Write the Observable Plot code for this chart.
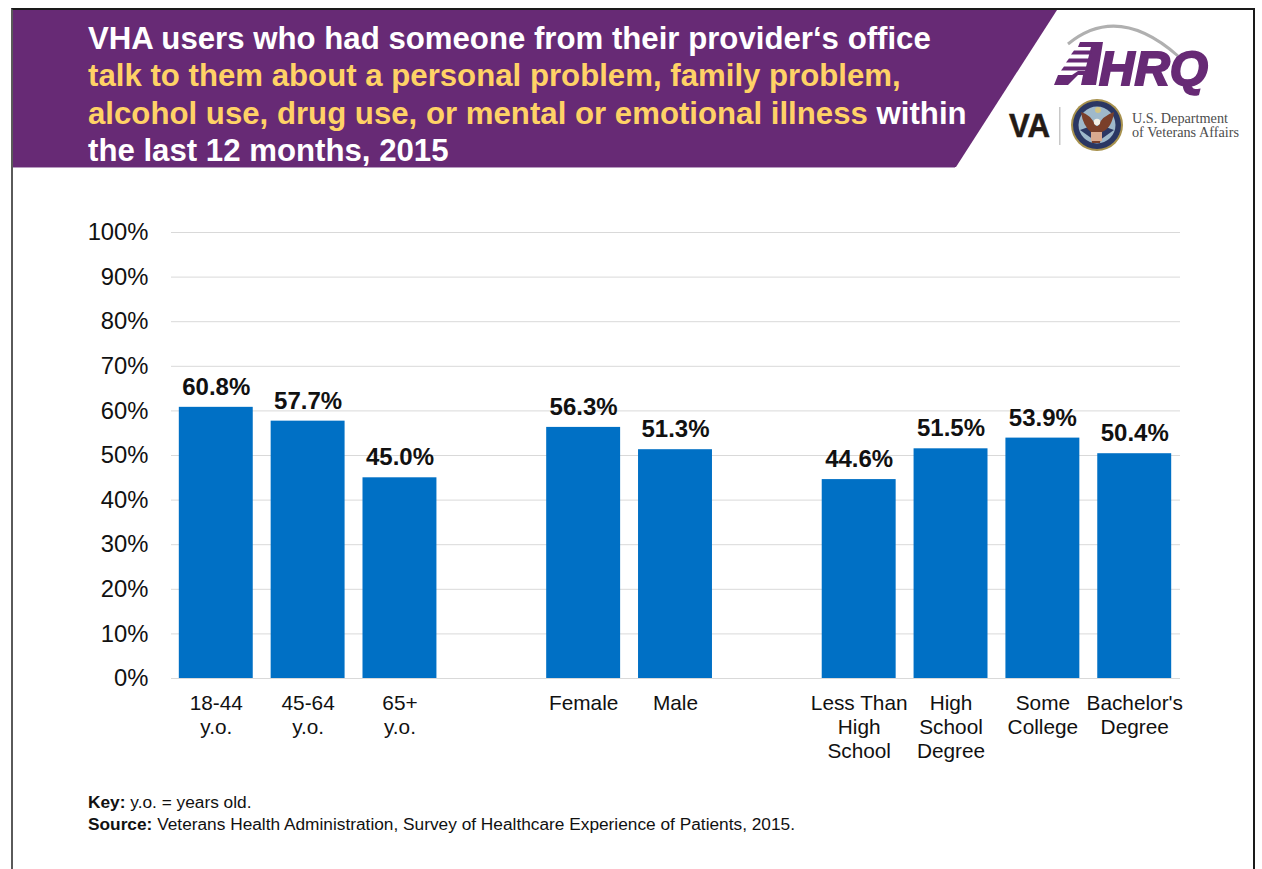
<!DOCTYPE html>
<html><head><meta charset="utf-8">
<script src="https://cdn.jsdelivr.net/npm/d3@7"></script>
<script src="https://cdn.jsdelivr.net/npm/@observablehq/plot@0.6"></script>
<style>
html,body{margin:0;padding:0;background:#fff;width:1262px;height:869px;overflow:hidden;font-family:"Liberation Sans",Arial,sans-serif}
#frame{position:absolute;left:11px;top:8px;width:1240px;height:900px;border:2px solid #5a5a5a;border-top-color:#1a1a1a;border-right-color:#1a1a1a;box-sizing:content-box}
#banner{position:absolute;left:13px;top:10px;width:1044px;height:157px;background:#672a75;clip-path:polygon(0 0,100% 0,943px 100%,0 100%)}
#rule{position:absolute;left:13px;top:167px;width:942px;height:1px;background:#b79bc0}
#title{position:absolute;left:88px;top:19.5px;width:900px;font-weight:700;font-size:31.2px;line-height:37.6px;color:#fff;white-space:pre}
#title .g{color:#ffd266}
#chart{position:absolute;left:0;top:0}
#foot{position:absolute;left:88px;top:792px;font-size:17.3px;line-height:21.5px;color:#111;white-space:pre}
#foot div span.k{font-weight:700}
#logos{position:absolute;left:1000px;top:10px}
</style></head><body>
<div id="frame"></div>
<div id="banner"></div><div id="rule"></div>
<div id="chart"></div>
<div id="title"><div><span>VHA users who had someone from their provider‘s office</span></div><div><span class="g">talk to them about a personal problem, family problem,</span></div><div><span class="g">alcohol use, drug use, or mental or emotional illness</span><span> within</span></div><div><span>the last 12 months, 2015</span></div></div>
<svg id="logos" width="250" height="150" viewBox="1000 10 250 150" font-family="Liberation Sans">
  <path d="M1068 44 Q1118 3 1178 56" fill="none" stroke="#b0b0b0" stroke-width="3"/>
  <g fill="#672a75">
    <path d="M1080 42H1103L1096 85H1081L1083 75H1072L1078 71H1085L1091 47H1078Z"/>
    <path d="M1074 50.5H1092L1090.5 54.5H1071Z"/>
    <path d="M1069 58.5H1090L1089 62.5H1066Z"/>
    <path d="M1064 66.5H1088L1087 70.5H1061Z"/>
    <path d="M1058 75H1078L1068 85H1054Z"/>
    <text x="1099" y="85" font-size="48" font-weight="700" font-style="italic" stroke="#672a75" stroke-width="2" textLength="109" lengthAdjust="spacingAndGlyphs">HRQ</text>
  </g>
  <text x="1009" y="137" font-size="33" font-weight="700" fill="#231a15" stroke="#231a15" stroke-width=".6" textLength="41" lengthAdjust="spacingAndGlyphs">VA</text>
  <rect x="1059" y="107" width="1.5" height="38" fill="#c8c8c8"/>
  <circle cx="1097" cy="125" r="26" fill="#a8924e"/>
  <circle cx="1097" cy="125" r="24" fill="#2b3763"/>
  <circle cx="1097" cy="125" r="18.5" fill="#9fb9cb"/>
  <path d="M1080 130 L1094 140 L1094 125Z" fill="#2b3763"/>
  <path d="M1114 130 L1100 140 L1100 125Z" fill="#2b3763"/>
  <path d="M1081 112 Q1090 114 1096 126 L1098 126 Q1102 116 1114 112 Q1112 128 1102 132 L1100 143 L1092 143 L1091 132 Q1083 126 1081 112Z" fill="#7a3f2a"/>
  <circle cx="1097" cy="122" r="3.2" fill="#f3efe6"/>
  <rect x="1091" y="132" width="11" height="9" fill="#d9a98f"/>
  <circle cx="1098" cy="110" r="3" fill="#e0c870" opacity=".8"/>
  <text x="1132" y="123" font-family="Liberation Serif" font-size="14.5" fill="#4d4d4d" textLength="96" lengthAdjust="spacingAndGlyphs">U.S. Department</text>
  <text x="1132" y="137" font-family="Liberation Serif" font-size="14.5" fill="#4d4d4d" textLength="107" lengthAdjust="spacingAndGlyphs">of Veterans Affairs</text>
</svg>
<div id="foot"><div><span class="k">Key:</span><span> y.o. = years old.</span></div><div><span class="k">Source:</span><span> Veterans Health Administration, Survey of Healthcare Experience of Patients, 2015.</span></div></div>
<script>
const categories = ["18-44\ny.o.","45-64\ny.o.","65+\ny.o.","gap1","Female","Male","gap2","Less Than\nHigh\nSchool","High\nSchool\nDegree","Some\nCollege","Bachelor's\nDegree"];
const values = [60.8,57.7,45.0,null,56.3,51.3,null,44.6,51.5,53.9,50.4];
const yTicks = [0,10,20,30,40,50,60,70,80,90,100];
const rows = categories.map((c,i)=>({c,v:values[i]})).filter(d=>d.v!=null);
const plot = Plot.plot({
  width:1262,height:869,
  marginLeft:171,marginRight:83,marginTop:232,marginBottom:191,
  style:{background:"transparent",fontFamily:"Liberation Sans, Arial, sans-serif",overflow:"visible"},
  x:{domain:categories,paddingInner:0.195,paddingOuter:0.085,round:false,label:null},
  y:{domain:[0,100],label:null},
  marks:[
    Plot.ruleY(yTicks,{insetRight:-1,stroke:"#d9d9d9",strokeWidth:1,strokeOpacity:1}),
    Plot.barY(rows,{x:"c",y:"v",fill:"#0070c5"}),
    Plot.text(rows,{x:"c",y:"v",text:d=>d.v.toFixed(1)+"%",dy:-20,fontSize:24,fontWeight:700,fill:"#111"}),
    Plot.axisY({ticks:yTicks,tickSize:0,tickPadding:23,tickFormat:d=>d+"%",fontSize:23.8,fill:"#111",label:null,marginLeft:171}),
    Plot.axisX({tickSize:0,tickPadding:14,tickFormat:d=>d.startsWith("gap")?"":d,fontSize:20.8,lineHeight:1.155,lineAnchor:"top",fill:"#111",label:null,marginBottom:191})
  ]
});
document.getElementById("chart").appendChild(plot);
</script>
</body></html>
